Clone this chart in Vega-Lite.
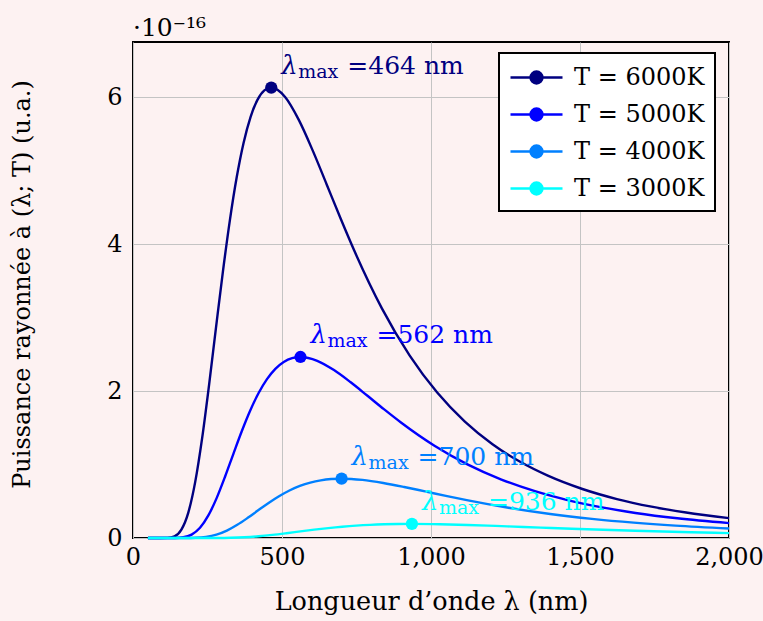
{
  "$schema": "https://vega.github.io/schema/vega-lite/v6.json",
  "width": 596,
  "height": 496,
  "autosize": {"type": "none"},
  "padding": {"left": 133, "top": 42, "right": 34, "bottom": 83},
  "background": "#fdf2f2",
  "title": {"text": "·10⁻¹⁶", "anchor": "start", "frame": "group", "fontSize": 25, "fontWeight": "normal", "font": "DejaVu Serif", "color": "black", "offset": 1},
  "config": {
    "font": "DejaVu Serif",
    "view": {"stroke": "black", "strokeWidth": 2, "fill": "#fdf2f2"},
    "axis": {
      "labelFont": "DejaVu Serif",
      "titleFont": "DejaVu Serif",
      "labelFontSize": 24,
      "titleFontSize": 24,
      "titleFontWeight": "normal",
      "labelColor": "black",
      "titleColor": "black",
      "gridColor": "#c4c4c4",
      "gridWidth": 1,
      "domain": false,
      "ticks": false,
      "labelFlush": false
    },
    "legend": {"labelFont": "DejaVu Serif"},
    "text": {"font": "DejaVu Serif"}
  },
  "datasets": {
    "curves": [
      {"s":"T = 6000K","x":50,"y":0},{"s":"T = 6000K","x":92.8,"y":0},{"s":"T = 6000K","x":116,"y":0.0021},{"s":"T = 6000K","x":139.2,"y":0.0233},{"s":"T = 6000K","x":162.4,"y":0.1146},{"s":"T = 6000K","x":185.6,"y":0.3463},{"s":"T = 6000K","x":208.8,"y":0.7638},{"s":"T = 6000K","x":232,"y":1.359},{"s":"T = 6000K","x":255.2,"y":2.0817},{"s":"T = 6000K","x":278.4,"y":2.8596},{"s":"T = 6000K","x":301.6,"y":3.6222},{"s":"T = 6000K","x":324.8,"y":4.3167},{"s":"T = 6000K","x":348,"y":4.9083},{"s":"T = 6000K","x":371.2,"y":5.3803},{"s":"T = 6000K","x":394.4,"y":5.7291},{"s":"T = 6000K","x":417.6,"y":5.962},{"s":"T = 6000K","x":440.8,"y":6.0908},{"s":"T = 6000K","x":464,"y":6.13},{"s":"T = 6000K","x":510.4,"y":6.0019},{"s":"T = 6000K","x":556.8,"y":5.6868},{"s":"T = 6000K","x":603.2,"y":5.2718},{"s":"T = 6000K","x":649.6,"y":4.8151},{"s":"T = 6000K","x":696,"y":4.3541},{"s":"T = 6000K","x":742.4,"y":3.9116},{"s":"T = 6000K","x":835.2,"y":3.1251},{"s":"T = 6000K","x":928,"y":2.4851},{"s":"T = 6000K","x":1020.8,"y":1.9794},{"s":"T = 6000K","x":1113.6,"y":1.5846},{"s":"T = 6000K","x":1206.4,"y":1.2769},{"s":"T = 6000K","x":1299.2,"y":1.0366},{"s":"T = 6000K","x":1392,"y":0.8484},{"s":"T = 6000K","x":1508,"y":0.6669},{"s":"T = 6000K","x":1624,"y":0.5302},{"s":"T = 6000K","x":1740,"y":0.4266},{"s":"T = 6000K","x":1856,"y":0.3463},{"s":"T = 6000K","x":2000,"y":0.271},
      {"s":"T = 5000K","x":50,"y":0},{"s":"T = 5000K","x":112.4,"y":0},{"s":"T = 5000K","x":140.5,"y":0.0009},{"s":"T = 5000K","x":168.6,"y":0.0094},{"s":"T = 5000K","x":196.7,"y":0.0461},{"s":"T = 5000K","x":224.8,"y":0.1393},{"s":"T = 5000K","x":252.9,"y":0.3069},{"s":"T = 5000K","x":281,"y":0.5462},{"s":"T = 5000K","x":309.1,"y":0.8366},{"s":"T = 5000K","x":337.2,"y":1.1492},{"s":"T = 5000K","x":365.3,"y":1.4557},{"s":"T = 5000K","x":393.4,"y":1.7348},{"s":"T = 5000K","x":421.5,"y":1.9725},{"s":"T = 5000K","x":449.6,"y":2.1622},{"s":"T = 5000K","x":477.7,"y":2.3024},{"s":"T = 5000K","x":505.8,"y":2.396},{"s":"T = 5000K","x":533.9,"y":2.4478},{"s":"T = 5000K","x":562,"y":2.4635},{"s":"T = 5000K","x":618.2,"y":2.412},{"s":"T = 5000K","x":674.4,"y":2.2853},{"s":"T = 5000K","x":730.6,"y":2.1186},{"s":"T = 5000K","x":786.8,"y":1.9351},{"s":"T = 5000K","x":843,"y":1.7498},{"s":"T = 5000K","x":899.2,"y":1.572},{"s":"T = 5000K","x":1011.6,"y":1.2559},{"s":"T = 5000K","x":1124,"y":0.9987},{"s":"T = 5000K","x":1236.4,"y":0.7955},{"s":"T = 5000K","x":1348.8,"y":0.6368},{"s":"T = 5000K","x":1461.2,"y":0.5131},{"s":"T = 5000K","x":1573.6,"y":0.4166},{"s":"T = 5000K","x":1686,"y":0.3409},{"s":"T = 5000K","x":1826.5,"y":0.268},{"s":"T = 5000K","x":2000,"y":0.2024},
      {"s":"T = 4000K","x":50,"y":0},{"s":"T = 4000K","x":140,"y":0},{"s":"T = 4000K","x":175,"y":0.0003},{"s":"T = 4000K","x":210,"y":0.0031},{"s":"T = 4000K","x":245,"y":0.0151},{"s":"T = 4000K","x":280,"y":0.0456},{"s":"T = 4000K","x":315,"y":0.1006},{"s":"T = 4000K","x":350,"y":0.179},{"s":"T = 4000K","x":385,"y":0.2741},{"s":"T = 4000K","x":420,"y":0.3766},{"s":"T = 4000K","x":455,"y":0.477},{"s":"T = 4000K","x":490,"y":0.5684},{"s":"T = 4000K","x":525,"y":0.6463},{"s":"T = 4000K","x":560,"y":0.7085},{"s":"T = 4000K","x":595,"y":0.7544},{"s":"T = 4000K","x":630,"y":0.7851},{"s":"T = 4000K","x":665,"y":0.802},{"s":"T = 4000K","x":700,"y":0.8072},{"s":"T = 4000K","x":770,"y":0.7903},{"s":"T = 4000K","x":840,"y":0.7488},{"s":"T = 4000K","x":910,"y":0.6942},{"s":"T = 4000K","x":980,"y":0.6341},{"s":"T = 4000K","x":1050,"y":0.5734},{"s":"T = 4000K","x":1120,"y":0.5151},{"s":"T = 4000K","x":1260,"y":0.4115},{"s":"T = 4000K","x":1400,"y":0.3272},{"s":"T = 4000K","x":1540,"y":0.2606},{"s":"T = 4000K","x":1680,"y":0.2087},{"s":"T = 4000K","x":1820,"y":0.1681},{"s":"T = 4000K","x":2000,"y":0.1288},
      {"s":"T = 3000K","x":50,"y":0},{"s":"T = 3000K","x":187.2,"y":0},{"s":"T = 3000K","x":234,"y":0.0001},{"s":"T = 3000K","x":280.8,"y":0.0007},{"s":"T = 3000K","x":327.6,"y":0.0036},{"s":"T = 3000K","x":374.4,"y":0.0108},{"s":"T = 3000K","x":421.2,"y":0.0239},{"s":"T = 3000K","x":468,"y":0.0425},{"s":"T = 3000K","x":514.8,"y":0.0651},{"s":"T = 3000K","x":561.6,"y":0.0894},{"s":"T = 3000K","x":608.4,"y":0.1132},{"s":"T = 3000K","x":655.2,"y":0.1349},{"s":"T = 3000K","x":702,"y":0.1534},{"s":"T = 3000K","x":748.8,"y":0.1682},{"s":"T = 3000K","x":795.6,"y":0.1791},{"s":"T = 3000K","x":842.4,"y":0.1863},{"s":"T = 3000K","x":889.2,"y":0.1904},{"s":"T = 3000K","x":936,"y":0.1916},{"s":"T = 3000K","x":1029.6,"y":0.1876},{"s":"T = 3000K","x":1123.2,"y":0.1778},{"s":"T = 3000K","x":1216.8,"y":0.1648},{"s":"T = 3000K","x":1310.4,"y":0.1505},{"s":"T = 3000K","x":1404,"y":0.1361},{"s":"T = 3000K","x":1497.6,"y":0.1223},{"s":"T = 3000K","x":1684.8,"y":0.0977},{"s":"T = 3000K","x":1872,"y":0.0777},{"s":"T = 3000K","x":2000,"y":0.0664}
    ],
    "peaks": [
      {"s":"T = 6000K","x":464,"y":6.13,"sym":"λ","sub":"max","val":"=464 nm"},
      {"s":"T = 5000K","x":562,"y":2.4635,"sym":"λ","sub":"max","val":"=562 nm"},
      {"s":"T = 4000K","x":700,"y":0.8072,"sym":"λ","sub":"max","val":"=700 nm"},
      {"s":"T = 3000K","x":936,"y":0.1916,"sym":"λ","sub":"max","val":"=936 nm"}
    ]
  },
  "encoding": {
    "x": {"field": "x", "type": "quantitative", "scale": {"domain": [0, 2000], "nice": false, "zero": false},
      "axis": {"values": [0, 500, 1000, 1500, 2000], "format": ",.0f", "title": "Longueur d’onde λ (nm)", "titleFontSize": 25.5, "labelPadding": 7, "titlePadding": 20}},
    "y": {"field": "y", "type": "quantitative", "scale": {"domain": [0, 6.75], "nice": false},
      "axis": {"values": [0, 2, 4, 6], "title": "Puissance rayonnée à (λ; T) (u.a.)", "labelPadding": 11, "titlePadding": 72, "titleY": 242}},
    "color": {"field": "s", "type": "nominal",
      "scale": {"domain": ["T = 6000K", "T = 5000K", "T = 4000K", "T = 3000K"], "range": ["#000080", "#0000ff", "#0080ff", "#00ffff"]}}
  },
  "layer": [
    {
      "data": {"name": "curves"},
      "mark": {"type": "line", "strokeWidth": 2.4, "interpolate": "monotone"},
      "encoding": {
        "color": {"field": "s", "type": "nominal",
          "scale": {"domain": ["T = 6000K", "T = 5000K", "T = 4000K", "T = 3000K"], "range": ["#000080", "#0000ff", "#0080ff", "#00ffff"]},
          "legend": {
            "title": null, "orient": "none", "legendX": 366, "legendY": 11,
            "fillColor": "white", "strokeColor": "black", "padding": 10,
            "labelFont": "DejaVu Serif", "labelFontSize": 24, "labelColor": "black",
            "symbolType": "M-1,0H3M1.46,0A0.46,0.46 0 1,1 0.54,0A0.46,0.46 0 1,1 1.46,0Z",
            "symbolSize": 676, "symbolStrokeWidth": 2.4, "labelOffset": 36, "rowPadding": 10,
            "encode": {
              "legend": {"update": {"strokeWidth": {"value": 2}}},
              "symbols": {"update": {"fill": {"scale": "color", "field": "value"}, "stroke": {"scale": "color", "field": "value"}, "opacity": {"value": 1}}}
            }
          }
        }
      }
    },
    {
      "data": {"name": "peaks"},
      "mark": {"type": "point", "filled": true, "size": 150, "opacity": 1}
    },
    {
      "data": {"name": "peaks"},
      "mark": {"type": "text", "align": "left", "baseline": "alphabetic", "dx": 10, "dy": -14, "fontSize": 26, "fontStyle": "italic", "font": "DejaVu Serif"},
      "encoding": {"text": {"field": "sym"}}
    },
    {
      "data": {"name": "peaks"},
      "mark": {"type": "text", "align": "left", "baseline": "alphabetic", "dx": 27, "dy": -10, "fontSize": 19, "font": "DejaVu Serif"},
      "encoding": {"text": {"field": "sub"}}
    },
    {
      "data": {"name": "peaks"},
      "mark": {"type": "text", "align": "left", "baseline": "alphabetic", "dx": 76, "dy": -14, "fontSize": 25, "font": "DejaVu Serif"},
      "encoding": {"text": {"field": "val"}}
    }
  ]
}
